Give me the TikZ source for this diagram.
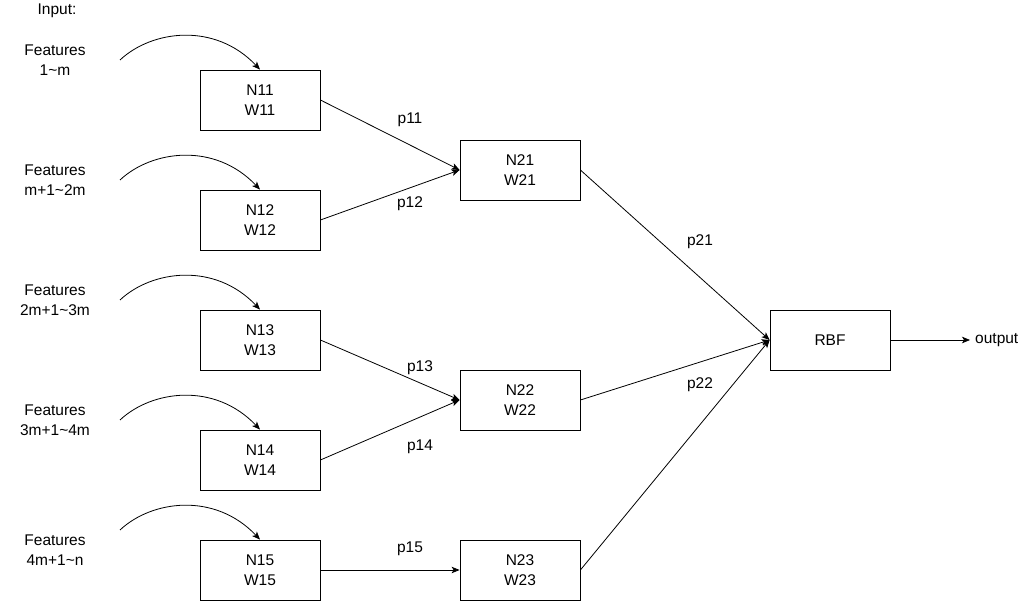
\documentclass[tikz,border=0pt]{standalone}
\usepackage{fontspec}
\setmainfont{Liberation Sans}
\usetikzlibrary{arrows.meta}
\begin{document}
\begin{tikzpicture}[x=1pt,y=-1pt, font=\fontsize{15.5}{20}\selectfont,
  box/.style={draw, line width=0.8pt, minimum width=120pt, minimum height=60pt, align=center, inner sep=0pt},
  lbl/.style={align=center, inner sep=0pt},
  conn/.style={line width=0.8pt, -{Stealth[length=8pt,width=6.5pt,inset=2pt]}},
]
\useasboundingbox (0,0) rectangle (1023,601);
\node[lbl] (input) at (57,11) {Input:};
% feature labels
\node[lbl] (f1) at (55,60) {Features\\1\textasciitilde m};
\node[lbl] (f2) at (55,180) {Features\\m+1\textasciitilde 2m};
\node[lbl] (f3) at (55,300) {Features\\2m+1\textasciitilde 3m};
\node[lbl] (f4) at (55,420) {Features\\3m+1\textasciitilde 4m};
\node[lbl] (f5) at (55,550) {Features\\4m+1\textasciitilde n};
% first layer
\node[box] (N11) at (260,100) {N11\\W11};
\node[box] (N12) at (260,220) {N12\\W12};
\node[box] (N13) at (260,340) {N13\\W13};
\node[box] (N14) at (260,460) {N14\\W14};
\node[box] (N15) at (260,570) {N15\\W15};
% second layer
\node[box] (N21) at (520,170) {N21\\W21};
\node[box] (N22) at (520,400) {N22\\W22};
\node[box] (N23) at (520,570) {N23\\W23};
% RBF
\node[box] (RBF) at (830,340) {RBF};
\node[lbl, anchor=west, inner xsep=5pt] (out) at (970,340) {output};
% curve starts
\coordinate (s1) at (120,60);
\coordinate (s2) at (120,180);
\coordinate (s3) at (120,300);
\coordinate (s4) at (120,420);
\coordinate (s5) at (120,530);
\draw[conn] (s1) .. controls (152,30) and (215,22) .. (N11.north);
\draw[conn] (s2) .. controls (152,150) and (215,142) .. (N12.north);
\draw[conn] (s3) .. controls (152,270) and (215,262) .. (N13.north);
\draw[conn] (s4) .. controls (152,390) and (215,382) .. (N14.north);
\draw[conn] (s5) .. controls (152,500) and (215,492) .. (N15.north);
% connections
\draw[conn] (N11.east) -- (N21.west);
\draw[conn] (N12.east) -- (N21.west);
\draw[conn] (N13.east) -- (N22.west);
\draw[conn] (N14.east) -- (N22.west);
\draw[conn] (N15.east) -- (N23.west);
\draw[conn] (N21.east) -- (RBF.west);
\draw[conn] (N22.east) -- (RBF.west);
\draw[conn] (N23.east) -- (RBF.west);
\draw[conn] (RBF.east) -- (out.west);
% weight labels
\node[lbl] (p11) at (410,120) {p11};
\node[lbl] (p12) at (410,204) {p12};
\node[lbl] (p13) at (420,368) {p13};
\node[lbl] (p14) at (420,447) {p14};
\node[lbl] (p15) at (410,549) {p15};
\node[lbl] (p21) at (700,242) {p21};
\node[lbl] (p22) at (700,385) {p22};
\end{tikzpicture}
\end{document}
